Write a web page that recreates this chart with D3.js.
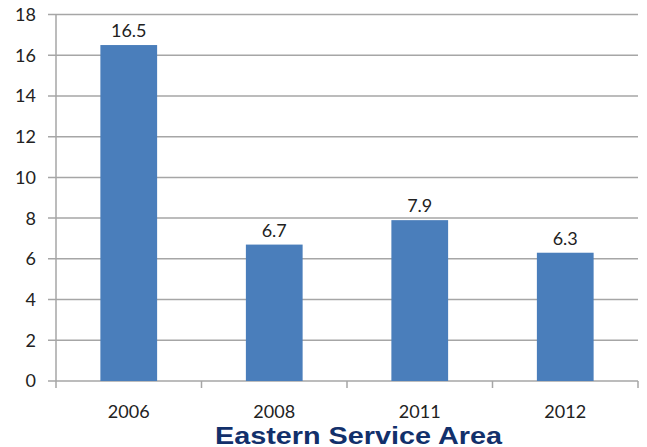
<!DOCTYPE html>
<html>
<head>
<meta charset="utf-8">
<script src="https://cdn.jsdelivr.net/npm/d3@7"></script>
<style>
  html, body { margin: 0; padding: 0; background: #fff; }
  svg { display: block; }
</style>
</head>
<body>
<svg id="chart" width="647" height="447"></svg>
<script>
const categories = ["2006", "2008", "2011", "2012"];
const values = [16.5, 6.7, 7.9, 6.3];
const yTicks = [0, 2, 4, 6, 8, 10, 12, 14, 16, 18];
const title = "Eastern Service Area";

(function () {
const svg = d3.select("#chart");
const mLeft = 56, mRight = 638, mTop = 14.5, mBottom = 381;
const font = "Lato, 'Open Sans', sans-serif";

const x = d3.scaleBand().domain(categories).range([mLeft, mRight]).paddingInner(0.61).paddingOuter(0.305);
const y = d3.scaleLinear().domain([0, 18]).range([mBottom, mTop]);

// gridlines
svg.append("g").selectAll("line").data(yTicks).join("line")
  .attr("x1", mLeft - 8).attr("x2", mRight)
  .attr("y1", d => y(d)).attr("y2", d => y(d))
  .attr("stroke", "#a6a6a6").attr("stroke-width", 1.5);

// y axis line
svg.append("line").attr("x1", mLeft).attr("x2", mLeft).attr("y1", mTop).attr("y2", mBottom)
  .attr("stroke", "#a6a6a6").attr("stroke-width", 1.5);

// y labels
svg.append("g").selectAll("text").data(yTicks).join("text")
  .attr("x", 36).attr("y", d => y(d)).attr("dy", "0.36em")
  .attr("text-anchor", "end").attr("font-family", font).attr("font-size", 18)
  .attr("fill", "#222").text(d => d);

// x tick marks at band boundaries
const bounds = categories.map(c => x(c) - x.step() * x.paddingInner() / 2);
bounds.push(mRight);
bounds[0] = mLeft;
svg.append("g").selectAll("line").data(bounds).join("line")
  .attr("x1", d => d).attr("x2", d => d).attr("y1", mBottom).attr("y2", mBottom + 7)
  .attr("stroke", "#a6a6a6").attr("stroke-width", 1.5);

// bars
svg.append("g").selectAll("rect").data(values).join("rect")
  .attr("x", (d, i) => x(categories[i]))
  .attr("y", d => y(d))
  .attr("width", x.bandwidth())
  .attr("height", d => mBottom - y(d))
  .attr("fill", "#4a7ebb");

// value labels
svg.append("g").selectAll("text").data(values).join("text")
  .attr("x", (d, i) => x(categories[i]) + x.bandwidth() / 2)
  .attr("y", d => y(d) - 8)
  .attr("text-anchor", "middle").attr("font-family", font).attr("font-size", 18)
  .attr("fill", "#222").text(d => d.toFixed(1));

// x labels
svg.append("g").selectAll("text").data(categories).join("text")
  .attr("x", c => x(c) + x.bandwidth() / 2)
  .attr("y", 418)
  .attr("text-anchor", "middle").attr("font-family", font).attr("font-size", 18)
  .attr("fill", "#222").text(c => c);

// title
svg.append("text").attr("x", 358.5).attr("y", 443.5)
  .attr("text-anchor", "middle").attr("font-family", "'Liberation Sans', Arial, sans-serif")
  .attr("font-weight", "bold").attr("font-size", 24.5).attr("fill", "#12306b")
  .attr("textLength", 287).attr("lengthAdjust", "spacingAndGlyphs")
  .text(title);
})();
</script>
</body>
</html>
